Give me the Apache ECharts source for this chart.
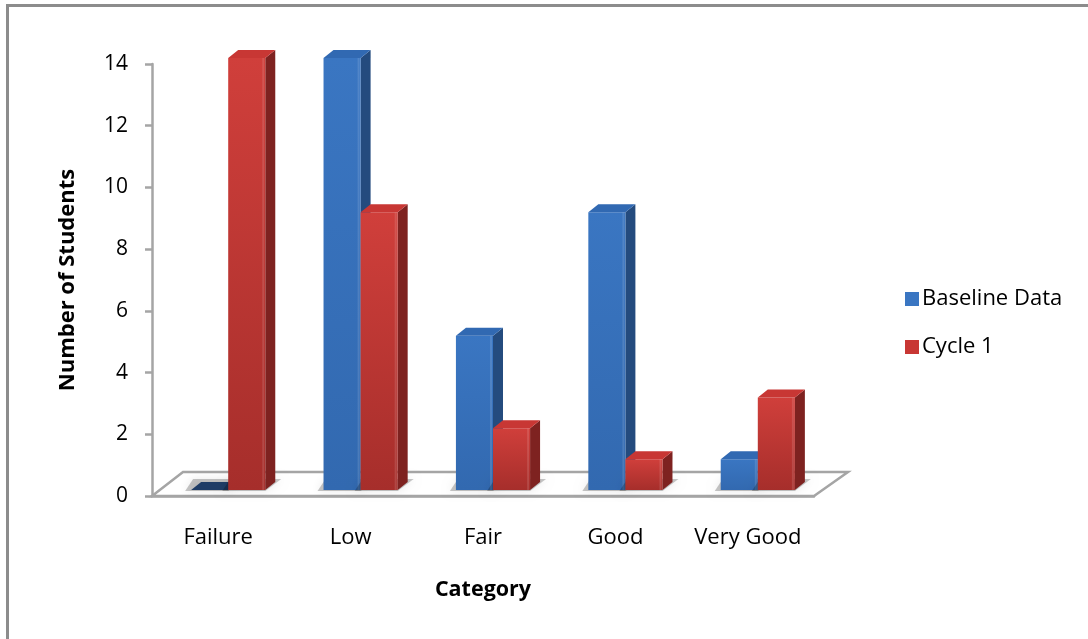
<!DOCTYPE html>
<html>
<head>
<meta charset="utf-8">
<script src="https://cdn.jsdelivr.net/npm/echarts@6/dist/echarts.min.js"></script>
<style>
  html, body { margin: 0; padding: 0; background: #fff; }
  #chart { width: 1088px; height: 639px; }
</style>
</head>
<body>
<div id="chart"></div>
<script>
// data
const categories = ['Failure', 'Low', 'Fair', 'Good', 'Very Good']
const baselineData = [0, 14, 5, 9, 1]
const cycle1Data = [14, 9, 2, 1, 3]
const yTicks = [0, 2, 4, 6, 8, 10, 12, 14]

// fake 3d look (excel style column)
const SHIFT_X = 10, SHIFT_Y = -6  // bars sit a bit back on the floor
const DEPTH_X = 10, DEPTH_Y = -8  // bar depth
const BAR_RATIO = 0.28

function makeBar(side, colors) {
  return function (params, api) {
    const cat = api.value(0)
    const val = api.value(1)
    const top = api.coord([cat, val])
    const base = api.coord([cat, 0])
    const band = api.size([1, 0])[0]
    const bw = band * BAR_RATIO
    const x0 = top[0] + (side === 0 ? -bw : 0) + SHIFT_X
    const y0 = top[1] + SHIFT_Y
    const y1 = base[1] + SHIFT_Y
    const x1 = x0 + bw
    const children = [
      // soft shadow on the floor
      {
        type: 'polygon',
        shape: { points: [[x0 - 6, y1 + 1], [x1, y1 + 1], [x1 + DEPTH_X + 6, y1 + DEPTH_Y - 3], [x0 + DEPTH_X - 8, y1 + DEPTH_Y - 3]] },
        style: { fill: 'rgba(0,0,0,0.22)', shadowBlur: 10, shadowColor: 'rgba(0,0,0,0.4)' },
        silent: true
      },
      {
        type: 'polygon',
        shape: { points: [[x1, y0], [x1 + DEPTH_X, y0 + DEPTH_Y], [x1 + DEPTH_X, y1 + DEPTH_Y], [x1, y1]] },
        style: { fill: colors.side }
      },
      {
        type: 'rect',
        shape: { x: x0, y: y0, width: bw, height: y1 - y0 },
        style: {
          fill: new echarts.graphic.LinearGradient(0, 0, 0, 1, [
            { offset: 0, color: colors.frontTop },
            { offset: 1, color: colors.frontBottom }
          ])
        }
      },
      {
        type: 'rect',
        shape: { x: x1 - 3, y: y0, width: 2, height: y1 - y0 },
        style: { fill: 'rgba(255,255,255,0.12)' }
      },
      {
        type: 'polygon',
        shape: { points: [[x0, y0], [x1, y0], [x1 + DEPTH_X, y0 + DEPTH_Y], [x0 + DEPTH_X, y0 + DEPTH_Y]] },
        style: { fill: val > 0 ? colors.top : colors.flat }
      }
    ]
    return { type: 'group', children }
  }
}

function floorItem(params, api) {
  const cs = params.coordSys
  const fx = cs.x, fy = cs.y + cs.height
  const pts = [[fx, fy], [fx + cs.width, fy], [fx + cs.width + 34, fy - 24], [fx + 31, fy - 24]]
  return {
    type: 'polygon',
    shape: { points: pts },
    style: { fill: '#fff', stroke: '#a5a5a5', lineWidth: 2.5, lineJoin: 'miter' },
    silent: true
  }
}

const blue = { frontTop: '#3a76c2', frontBottom: '#3269b0', side: '#244b7e', top: '#3169b2', flat: '#1e3c66' }
const red = { frontTop: '#d03f3b', frontBottom: '#a62e2b', side: '#7e2220', top: '#c83734', flat: '#7e2220' }

const chart = echarts.init(document.getElementById('chart'))
chart.setOption({
  animation: false,
  textStyle: { fontFamily: 'Open Sans' },
  graphic: [
    {
      type: 'polyline',
      shape: { points: [[7.5, 639], [7.5, 5.5], [1088, 5.5]] },
      style: { stroke: '#8c8c8c', lineWidth: 3, fill: null },
      silent: true
    }
  ],
  legend: {
    data: ['Baseline Data', 'Cycle 1'],
    orient: 'vertical',
    left: 900,
    top: 283,
    itemWidth: 14,
    itemHeight: 14,
    itemGap: 26,
    icon: 'rect',
    textStyle: { fontSize: 22, color: '#000', fontFamily: 'Open Sans', padding: [0, 0, 0, -2] }
  },
  grid: { left: 152, top: 64, width: 662, height: 432 },
  xAxis: {
    type: 'category',
    data: categories,
    name: 'Category',
    nameLocation: 'middle',
    nameGap: 83,
    nameTextStyle: { fontSize: 21.5, fontWeight: 'bold', color: '#000' },
    axisLine: { lineStyle: { color: '#a5a5a5', width: 2.5 } },
    axisTick: { length: 9, lineStyle: { color: '#a5a5a5', width: 2.5 } },
    axisLabel: { fontSize: 22, color: '#000', margin: 31, interval: 0 },
    splitLine: { show: false }
  },
  yAxis: {
    type: 'value',
    min: yTicks[0],
    max: yTicks[yTicks.length - 1],
    interval: 2,
    name: 'Number of Students',
    nameLocation: 'middle',
    nameGap: 73,
    nameTextStyle: { fontSize: 22, fontWeight: 'bold', color: '#000' },
    axisLine: { show: true, lineStyle: { color: '#a5a5a5', width: 2.5 } },
    axisTick: { show: true, length: 7, lineStyle: { color: '#a5a5a5', width: 2.5 } },
    axisLabel: { fontSize: 21, color: '#000', margin: 24 },
    splitLine: { show: false }
  },
  series: [
    {
      name: 'floor',
      type: 'custom',
      z: 1,
      silent: true,
      renderItem: floorItem,
      data: [[0, 0]]
    },
    {
      name: 'Baseline Data',
      type: 'custom',
      z: 3,
      itemStyle: { color: '#3a76c2' },
      renderItem: makeBar(0, blue),
      encode: { x: 0, y: 1 },
      data: baselineData.map((v, i) => [i, v])
    },
    {
      name: 'Cycle 1',
      type: 'custom',
      z: 4,
      itemStyle: { color: '#c83734' },
      renderItem: makeBar(1, red),
      encode: { x: 0, y: 1 },
      data: cycle1Data.map((v, i) => [i, v])
    }
  ]
})
</script>
</body>
</html>
